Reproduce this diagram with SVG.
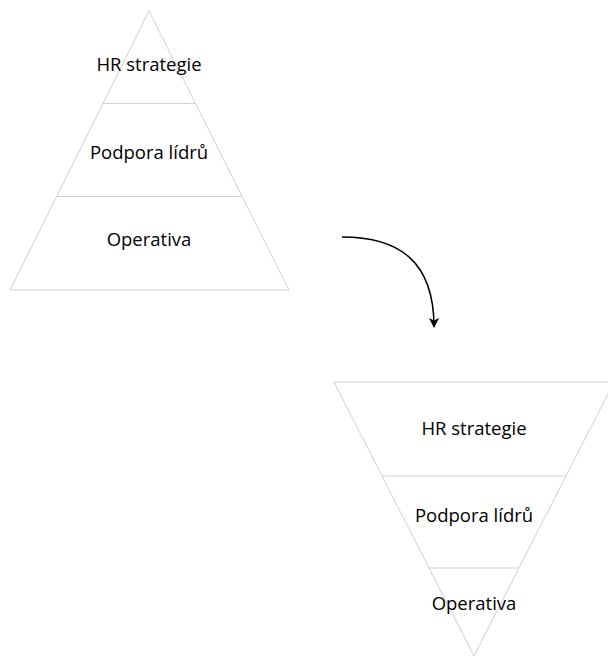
<svg xmlns="http://www.w3.org/2000/svg" width="608" height="658" viewBox="0 0 608 658">
<defs>
<style>
.shape{fill:#ffffff;stroke:#d0d0d0;stroke-width:1}
.div{fill:none;stroke:#d0d0d0;stroke-width:1}
.lbl{font-family:"Open Sans","Liberation Sans",sans-serif;font-size:18.5px;fill:#000000;text-anchor:middle}
.conn{fill:none;stroke:#000000;stroke-width:1.5}
</style>
<marker id="arrow" viewBox="0 0 10 10" refX="9" refY="5" markerWidth="10" markerHeight="10" markerUnits="userSpaceOnUse" orient="auto">
<path d="M0,0 L10,5 L0,10 L2.5,5 Z" fill="#000000"/>
</marker>
</defs>
<rect width="608" height="658" fill="#ffffff"/>
<g id="pyramid">
<polygon class="shape" points="149,11 289,290 10,290"/>
<line class="div" x1="103" y1="103.5" x2="195" y2="103.5"/>
<line class="div" x1="57" y1="196.5" x2="242" y2="196.5"/>
<text class="lbl" x="149" y="71">HR strategie</text>
<text class="lbl" x="149" y="159">Podpora lídrů</text>
<text class="lbl" x="149" y="246">Operativa</text>
</g>
<g id="inverted-pyramid">
<polygon class="shape" points="334,382 614,382 474,656"/>
<line class="div" x1="382" y1="476" x2="566" y2="476"/>
<line class="div" x1="429" y1="568" x2="519" y2="568"/>
<text class="lbl" x="474" y="435">HR strategie</text>
<text class="lbl" x="474" y="522">Podpora lídrů</text>
<text class="lbl" x="474" y="610">Operativa</text>
</g>
<g id="connectors">
<path class="conn" d="M342,237 C400,237 434,262 434,327" marker-end="url(#arrow)"/>
</g>
</svg>
